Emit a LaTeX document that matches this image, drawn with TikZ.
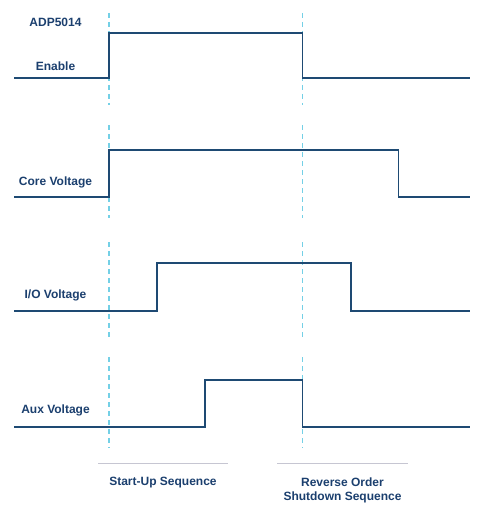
\documentclass[tikz,border=0pt]{standalone}
\usepackage{fontspec}
\setmainfont{Liberation Sans}
\definecolor{txtblue}{HTML}{1B3F6E}
\definecolor{sigblue}{HTML}{1E4A73}
\definecolor{dashcyan}{HTML}{74D0E6}
\definecolor{rulegray}{HTML}{C6C6D2}
\begin{document}
\begin{tikzpicture}[x=1pt,y=-1pt,
  lbl/.style={text=txtblue,font=\fontsize{12}{14}\selectfont\bfseries,inner sep=0pt,align=center},
  sig/.style={draw=sigblue,line width=1.9pt,line join=miter},
  guide/.style={draw=dashcyan,line width=1.8pt,dash pattern=on 5pt off 4pt},
  seqrule/.style={draw=rulegray,line width=1.5pt}]
\useasboundingbox (0,0) rectangle (482,508);
% dashed guides
\foreach \x in {109,302.5}{
  \draw[guide] (\x,13) -- (\x,105);
  \draw[guide] (\x,125) -- (\x,218);
  \draw[guide] (\x,242) -- (\x,337);
  \draw[guide] (\x,357) -- (\x,448);
}
% signals
\draw[sig] (14,78) -- (109,78) -- (109,33) -- (302.5,33) -- (302.5,78) -- (470,78);
\draw[sig] (14,197) -- (109,197) -- (109,150) -- (398.5,150) -- (398.5,197) -- (470,197);
\draw[sig] (14,311) -- (157,311) -- (157,263) -- (351,263) -- (351,311) -- (470,311);
\draw[sig] (14,427) -- (205,427) -- (205,380) -- (302.5,380) -- (302.5,427) -- (470,427);
% labels
\node[lbl] (adp) at (55.5,22.5) {ADP5014};
\node[lbl] (en) at (55.5,66.5) {Enable};
\node[lbl] (core) at (55.5,182.5) {Core Voltage};
\node[lbl] (io) at (55.5,295.5) {I/O Voltage};
\node[lbl] (aux) at (55.5,410.5) {Aux Voltage};
% sequence rules
\draw[seqrule] (98,463.5) -- (228,463.5);
\draw[seqrule] (277,463.5) -- (408,463.5);
\node[lbl] (start) at (163,482.5) {Start-Up Sequence};
\node[lbl,anchor=north] (rev) at (342.5,477.5) {Reverse Order\\Shutdown Sequence};
\end{tikzpicture}
\end{document}
